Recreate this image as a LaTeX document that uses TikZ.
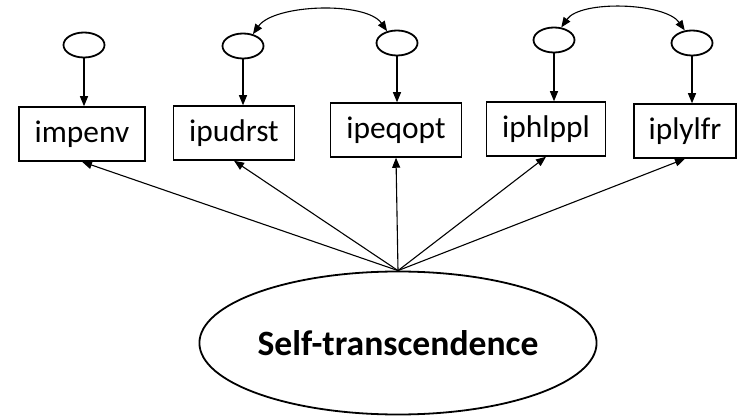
\documentclass[tikz,border=0pt]{standalone}
\usepackage{fontspec}
\setmainfont{Carlito}
\usetikzlibrary{arrows.meta,shapes.geometric}
\begin{document}
\begin{tikzpicture}[x=0.5pt,y=-0.5pt,
  obs/.style={draw,line width=0.75pt,inner sep=0pt,minimum height=27pt,font=\fontsize{15.7}{18}\selectfont},
  err/.style={draw,ellipse,line width=0.9pt,inner sep=0pt,minimum width=20.5pt,minimum height=12.5pt},
  lat/.style={draw,ellipse,line width=0.9pt,inner sep=0pt,minimum width=183.5pt,minimum height=71.5pt,font=\bfseries\fontsize{17.8}{20}\selectfont},
  conn/.style={line width=0.55pt,-{Triangle[length=5pt,width=4pt]}},
  cov/.style={line width=0.55pt,{Triangle[length=5pt,width=4pt]}-{Triangle[length=5pt,width=4pt]}}]
\useasboundingbox (0,0) rectangle (738,416);
\node[obs,minimum width=63pt] (b1) at (82,134) {impenv};
\node[obs,minimum width=60.5pt] (b2) at (234,133) {ipudrst};
\node[obs,minimum width=65.5pt] (b3) at (396,130) {ipeqopt};
\node[obs,minimum width=59.5pt] (b4) at (546,129) {iphlppl};
\node[obs,minimum width=51pt] (b5) at (685,131) {iplylfr};
\node[err] (e1) at (84,45) {};
\node[err] (e2) at (243,46) {};
\node[err] (e3) at (397,43) {};
\node[err] (e4) at (554,40) {};
\node[err] (e5) at (692,43) {};
\node[lat] (st) at (398,343) {Self-transcendence};
\foreach \i in {1,...,5}{
  \draw[conn] (e\i.south) -- (e\i.south |- b\i.north);
  \draw[conn] (st.north) -- (b\i.south);
}
\draw[cov] (e2.50) to[out=55,in=125,looseness=0.7] (e3.130);
\draw[cov] (e4.60) to[out=55,in=125,looseness=0.7] (e5.120);
\end{tikzpicture}
\end{document}
